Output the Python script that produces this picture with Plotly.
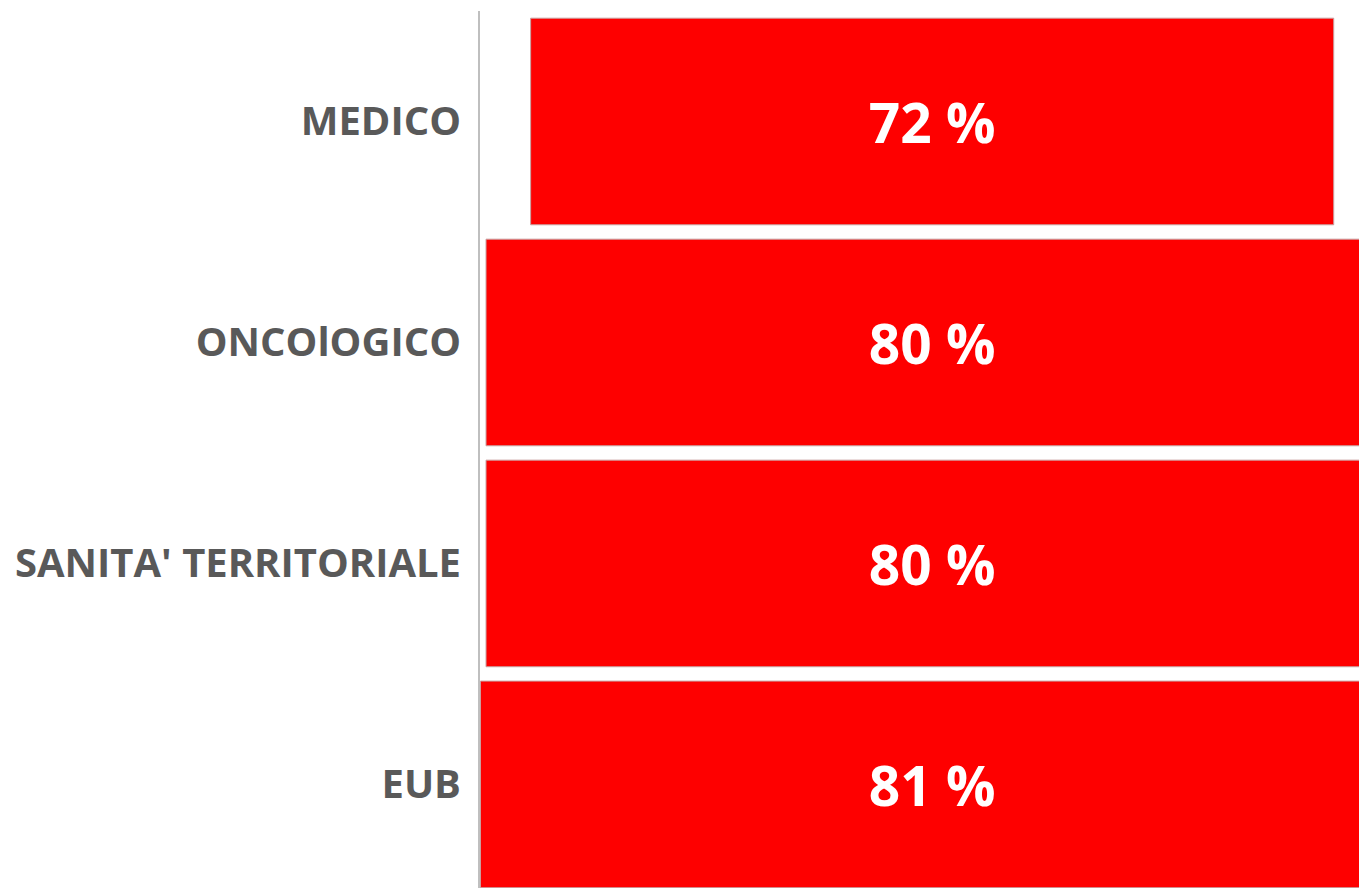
import plotly.graph_objects as go

categories = ["MEDICO", "ONCOlOGICO", "SANITA' TERRITORIALE", "EUB"]
values = [72, 80, 80, 81]
labels = ["72 %", "80 %", "80 %", "81 %"]

fig = go.Figure(go.Funnel(
    y=categories,
    x=values,
    text=labels,
    textinfo="text",
    textposition="inside",
    insidetextanchor="middle",
    textfont=dict(family="Open Sans", size=55, color="white", weight="bold"),
    marker=dict(color="#FE0000", line=dict(color="#C8A0A0", width=1)),
    connector=dict(visible=False),
    hoverinfo="skip",
))

fig.update_layout(
    width=1367, height=888,
    margin=dict(l=472, r=0, t=3, b=0),
    paper_bgcolor="white", plot_bgcolor="white",
    showlegend=False,
    funnelgap=0.065,
    xaxis=dict(range=[-40.54, 39.7], visible=False, fixedrange=True),
    yaxis=dict(
        range=[3.505, -0.5],
        showline=True, linecolor="#BFBFBF", linewidth=2,
        ticks="", ticklabelstandoff=9,
        tickfont=dict(family="Open Sans", size=40, color="#595959", weight="bold"),
        showgrid=False,
    ),
)

fig.write_html("out.html")
